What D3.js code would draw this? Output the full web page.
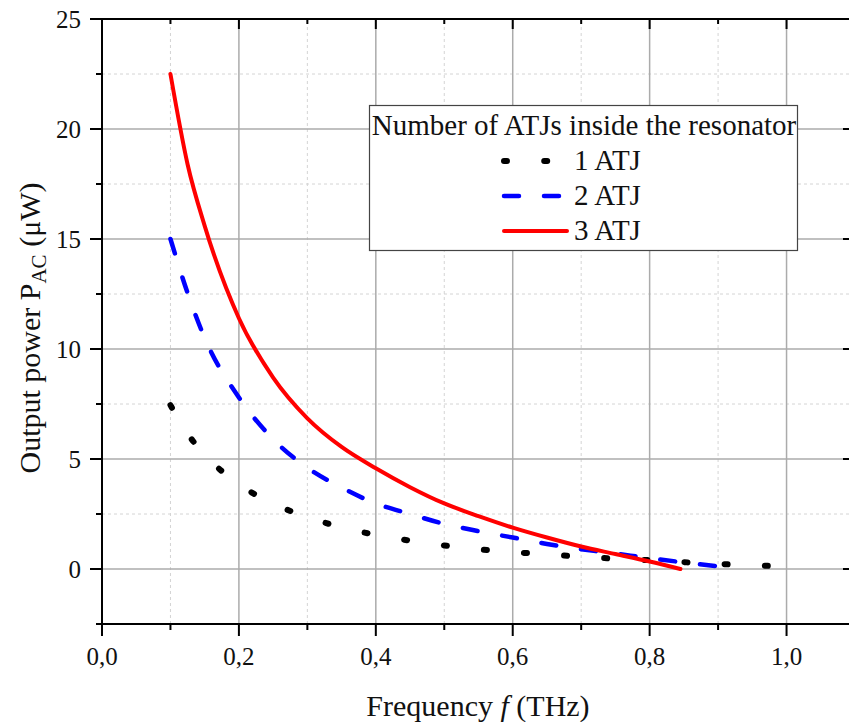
<!DOCTYPE html>
<html>
<head>
<meta charset="utf-8">
<script src="https://cdn.jsdelivr.net/npm/d3@7"></script>
<style>
  body { margin: 0; background: #fff; }
  svg { display: block; font-family: "Liberation Serif", "Times New Roman", serif; }
</style>
</head>
<body>
<svg id="chart"></svg>
<script>
// frequency (THz) / output power (uW)
const freq1 = [0.1, 0.125, 0.15, 0.2, 0.25, 0.3, 0.35, 0.4, 0.45, 0.5, 0.55, 0.6, 0.65, 0.7, 0.75, 0.8, 0.85, 0.9, 0.95, 0.975];
const power1 = [7.45, 6.15, 5.2, 3.85, 2.98, 2.35, 1.9, 1.55, 1.29, 1.07, 0.9, 0.77, 0.66, 0.56, 0.47, 0.4, 0.31, 0.23, 0.17, 0.14];

const freq2 = [0.1, 0.125, 0.15, 0.2, 0.25, 0.3, 0.35, 0.4, 0.45, 0.5, 0.55, 0.6, 0.65, 0.7, 0.75, 0.8, 0.85, 0.9, 0.922];
const power2 = [15.0, 12.55, 10.5, 7.8, 5.9, 4.6, 3.7, 2.98, 2.5, 2.05, 1.72, 1.43, 1.14, 0.9, 0.7, 0.49, 0.3, 0.12, 0.03];

const freq3 = [0.1, 0.125, 0.15, 0.2, 0.25, 0.3, 0.35, 0.4, 0.45, 0.5, 0.55, 0.6, 0.65, 0.7, 0.75, 0.8, 0.845];
const power3 = [22.5, 18.4, 15.6, 11.4, 8.7, 6.85, 5.55, 4.58, 3.72, 2.98, 2.4, 1.88, 1.43, 1.02, 0.68, 0.34, 0.0];

const seriesNames = ['1 ATJ', '2 ATJ', '3 ATJ'];
const legendTitle = 'Number of ATJs inside the resonator';
const xMajorTicks = [0, 0.2, 0.4, 0.6, 0.8, 1.0];
const xMinorTicks = [0.1, 0.3, 0.5, 0.7, 0.9];
const yMajorTicks = [0, 5, 10, 15, 20, 25];
const yMinorTicks = [-2.5, 2.5, 7.5, 12.5, 17.5, 22.5];

const W = 849, H = 722;
const svg = d3.select('#chart').attr('width', W).attr('height', H);

const x = d3.scaleLinear().domain([0, 1.1]).range([102, 855]);
const y = d3.scaleLinear().domain([-2.5, 25]).range([624, 19]);

const fmt = d => d3.format('.1f')(d).replace('.', ',');

// grid
const grid = svg.append('g');
grid.selectAll('.vmin').data(xMinorTicks).enter().append('line')
  .attr('x1', d => x(d)).attr('x2', d => x(d)).attr('y1', y(-2.5)).attr('y2', y(25))
  .attr('stroke', '#d4d4d4').attr('stroke-dasharray', '3,3');
grid.selectAll('.hmin').data(yMinorTicks.filter(d => d > -2.5)).enter().append('line')
  .attr('x1', x(0)).attr('x2', x(1.1)).attr('y1', d => y(d)).attr('y2', d => y(d))
  .attr('stroke', '#d4d4d4').attr('stroke-dasharray', '3,3');
grid.selectAll('.vmaj').data(xMajorTicks.filter(d => d > 0)).enter().append('line')
  .attr('x1', d => x(d)).attr('x2', d => x(d)).attr('y1', y(-2.5)).attr('y2', y(25))
  .attr('stroke', '#ababab').attr('stroke-width', 1.5);
grid.selectAll('.hmaj').data(yMajorTicks.filter(d => d < 25)).enter().append('line')
  .attr('x1', x(0)).attr('x2', x(1.1)).attr('y1', d => y(d)).attr('y2', d => y(d))
  .attr('stroke', '#ababab').attr('stroke-width', 1.5);

// curves
const line = d3.line().x(d => x(d[0])).y(d => y(d[1])).curve(d3.curveMonotoneX);
const data1 = freq1.map((f, i) => [f, power1[i]]);
const data2 = freq2.map((f, i) => [f, power2[i]]);
const data3 = freq3.map((f, i) => [f, power3[i]]);

svg.append('path').datum(data1).attr('d', line)
  .attr('fill', 'none').attr('stroke', '#000').attr('stroke-width', 6)
  .attr('stroke-linecap', 'round').attr('stroke-dasharray', '3,37.2');
svg.append('path').datum(data2).attr('d', line)
  .attr('fill', 'none').attr('stroke', '#0000ff').attr('stroke-width', 4.5)
  .attr('stroke-linecap', 'round').attr('stroke-dasharray', '15,25');
svg.append('path').datum(data3).attr('d', line)
  .attr('fill', 'none').attr('stroke', '#ff0000').attr('stroke-width', 4)
  .attr('stroke-linecap', 'round');

// axes
const axes = svg.append('g').attr('stroke', '#000').attr('stroke-width', 2);
axes.append('line').attr('x1', x(0) - 1).attr('x2', x(1.1)).attr('y1', y(-2.5)).attr('y2', y(-2.5));
axes.append('line').attr('x1', x(0) - 1).attr('x2', x(1.1)).attr('y1', y(25)).attr('y2', y(25));
axes.append('line').attr('x1', x(0)).attr('x2', x(0)).attr('y1', y(-2.5) + 1).attr('y2', y(25) - 1);
axes.append('line').attr('x1', x(1.1)).attr('x2', x(1.1)).attr('y1', y(-2.5) + 1).attr('y2', y(25) - 1);

xMajorTicks.forEach(d => {
  axes.append('line').attr('x1', x(d)).attr('x2', x(d)).attr('y1', y(-2.5)).attr('y2', y(-2.5) + 12);
  axes.append('line').attr('x1', x(d)).attr('x2', x(d)).attr('y1', y(25)).attr('y2', y(25) + 10);
});
xMinorTicks.forEach(d => {
  axes.append('line').attr('x1', x(d)).attr('x2', x(d)).attr('y1', y(-2.5)).attr('y2', y(-2.5) + 6);
  axes.append('line').attr('x1', x(d)).attr('x2', x(d)).attr('y1', y(25)).attr('y2', y(25) + 5);
});
yMajorTicks.forEach(d => {
  axes.append('line').attr('x1', x(0)).attr('x2', x(0) - 12).attr('y1', y(d)).attr('y2', y(d));
  axes.append('line').attr('x1', x(1.1)).attr('x2', x(1.1) - 12).attr('y1', y(d)).attr('y2', y(d));
});
yMinorTicks.forEach(d => {
  axes.append('line').attr('x1', x(0)).attr('x2', x(0) - 6).attr('y1', y(d)).attr('y2', y(d));
  axes.append('line').attr('x1', x(1.1)).attr('x2', x(1.1) - 6).attr('y1', y(d)).attr('y2', y(d));
});

// tick labels
svg.selectAll('.xlab').data(xMajorTicks).enter().append('text')
  .attr('x', d => x(d)).attr('y', 665)
  .attr('text-anchor', 'middle').attr('font-size', 25).attr('fill', '#111')
  .text(fmt);
svg.selectAll('.ylab').data(yMajorTicks).enter().append('text')
  .attr('x', 81).attr('y', d => y(d)).attr('dy', '0.34em')
  .attr('text-anchor', 'end').attr('font-size', 25).attr('fill', '#111')
  .text(d => d);

// axis titles
const xt = svg.append('text').attr('x', 478).attr('y', 716)
  .attr('text-anchor', 'middle').attr('font-size', 30).attr('fill', '#111');
xt.append('tspan').text('Frequency ');
xt.append('tspan').attr('font-style', 'italic').text('f');
xt.append('tspan').text(' (THz)');

const yt = svg.append('text').attr('transform', 'translate(40,328) rotate(-90)')
  .attr('text-anchor', 'middle').attr('font-size', 30).attr('fill', '#111');
yt.append('tspan').text('Output power P');
yt.append('tspan').attr('font-size', 21).attr('dy', 6).text('AC');
yt.append('tspan').attr('dy', -6).text(' (\u03bcW)');

// legend
const lg = svg.append('g');
lg.append('rect').attr('x', 369.5).attr('y', 105.5).attr('width', 428).attr('height', 145)
  .attr('fill', '#fff').attr('stroke', '#444').attr('stroke-width', 1.2);
lg.append('text').attr('x', 584).attr('y', 135).attr('text-anchor', 'middle')
  .attr('font-size', 29).attr('fill', '#111').text(legendTitle);

const legendStyles = [
  { color: '#000', width: 6, dash: '3,37.2' },
  { color: '#0000ff', width: 4.5, dash: '15,25' },
  { color: '#ff0000', width: 4, dash: null }
];
seriesNames.forEach((name, i) => {
  const cy = 161 + i * 35;
  const s = legendStyles[i];
  const l = lg.append('line').attr('x1', 504).attr('x2', 567).attr('y1', cy).attr('y2', cy)
    .attr('stroke', s.color).attr('stroke-width', s.width).attr('stroke-linecap', 'round');
  if (s.dash) l.attr('stroke-dasharray', s.dash);
  lg.append('text').attr('x', 574).attr('y', cy + 9).attr('font-size', 29)
    .attr('fill', '#111').text(name);
});
</script>
</body>
</html>
